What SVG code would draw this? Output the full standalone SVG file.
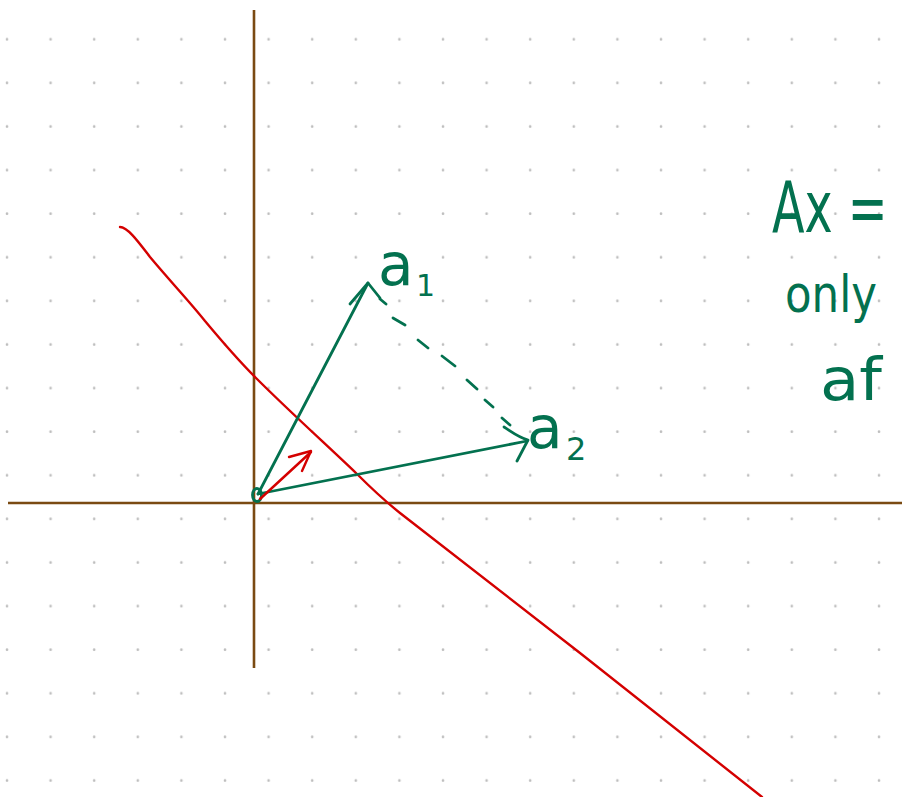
<svg xmlns="http://www.w3.org/2000/svg" width="902" height="797" viewBox="0 0 902 797">
<defs>
<pattern id="dots" x="0" y="0" width="43.6" height="43.6" patternUnits="userSpaceOnUse">
<circle cx="7" cy="39.3" r="1.3" fill="#bdbdbd"/>
</pattern>
</defs>
<style>
.axis{stroke:#7a4a12;stroke-width:2.6;fill:none}
.g{stroke:#03714f;stroke-width:2.8;fill:none;stroke-linecap:round;stroke-linejoin:round}
.r{stroke:#d40000;stroke-width:2.4;fill:none;stroke-linecap:round;stroke-linejoin:round}
.t{fill:#03714f;font-family:"DejaVu Sans","Liberation Sans",sans-serif}
</style>
<rect width="902" height="797" fill="#ffffff"/>
<rect width="902" height="797" fill="url(#dots)"/>
<g id="axes">
<line class="axis" x1="254" y1="10" x2="254" y2="668"/>
<line class="axis" x1="8" y1="503" x2="902" y2="503"/>
</g>
<g id="line-red">
<path class="r" d="M120,227 C128,227 140,244 150,257 C170,281 190,302 205,321 C225,345 240,362 256,378 C290,412 330,448 357,474 C370,487 380,497 400,513 L580,653 L762,797"/>
</g>
<g id="origin">
<ellipse cx="257" cy="495" rx="4.5" ry="6.5" class="g" stroke-width="4"/>
</g>
<g id="connectors">
<g id="vec-a1">
<line class="g" x1="258" y1="494" x2="368" y2="283"/>
<polyline class="g" points="350,304 368,283 380,298"/>
</g>
<g id="vec-a2">
<line class="g" x1="258" y1="494" x2="527" y2="441"/>
<path class="g" d="M504,427 C512,432 518,437 528,440 L517,461"/>
</g>
<g id="vec-red">
<line class="r" x1="260" y1="499" x2="311" y2="452"/>
<polyline class="r" points="289,457 311,451 302,471"/>
</g>
<g id="dashed">
<path class="g" d="M380,299 L386,304 M393,318 L405,325 M418,340 L428,348 M442,356 L455,366 M467,380 L477,389 M485,400 L493,407 M502,418 L510,425"/>
</g>
</g>
<g id="label-a1">
<text class="t" x="378" y="285" font-size="58">a</text>
<text class="t" x="416" y="296" font-size="30">1</text>
</g>
<g id="label-a2">
<text class="t" x="527" y="448" font-size="58">a</text>
<text class="t" x="566" y="460" font-size="32">2</text>
</g>
<g id="note">
<text class="t" transform="translate(772,232) scale(0.66,1)" font-size="72">Ax =</text>
<text class="t" x="785" y="312" font-size="52" textLength="92" lengthAdjust="spacingAndGlyphs">only</text>
<text class="t" x="820" y="400" font-size="58" textLength="62" lengthAdjust="spacingAndGlyphs">af</text>
</g>
</svg>
